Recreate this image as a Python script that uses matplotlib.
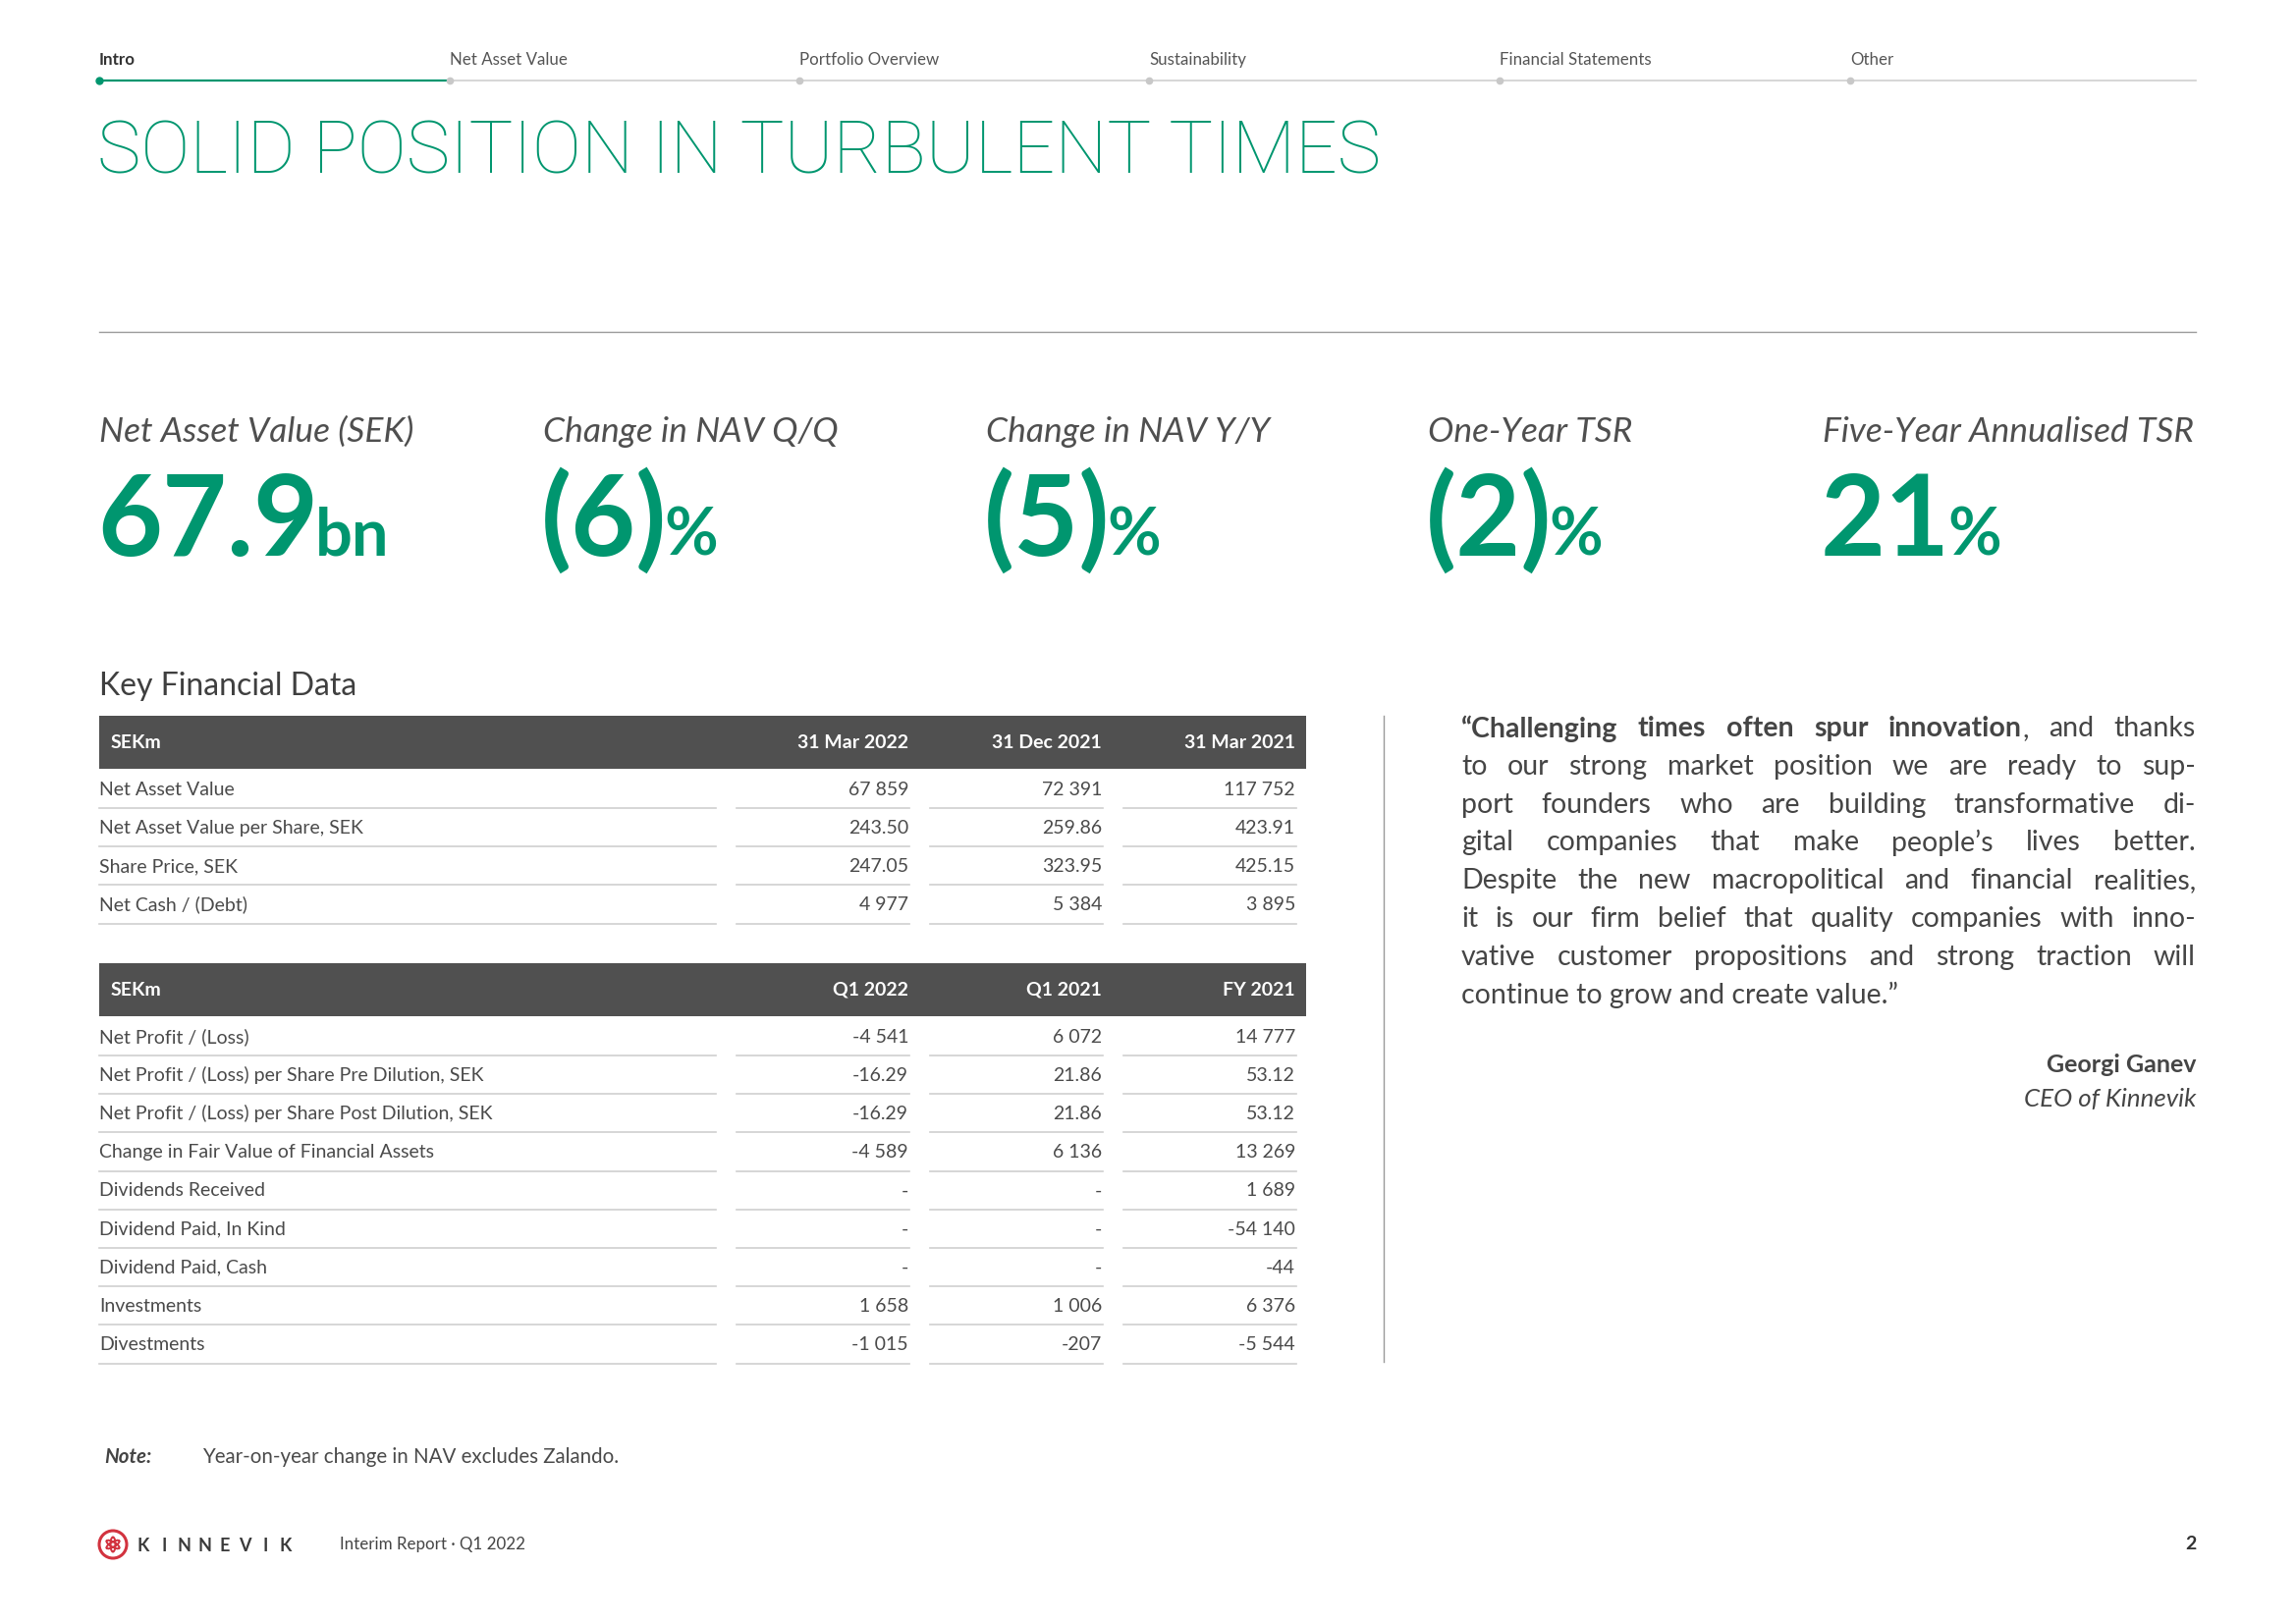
import matplotlib
matplotlib.use("Agg")
import matplotlib.pyplot as plt
from matplotlib.patches import Rectangle, Circle, Ellipse

W, H = 2338, 1653
GREEN = "#00966f"
TXT = "#4a4a4a"
GRID = "#cfcfcf"
HEAD = "#505050"
FONT = ["Lato", "DejaVu Sans"]

plt.rcParams["font.family"] = FONT

nav_items = ["Intro", "Net Asset Value", "Portfolio Overview", "Sustainability",
             "Financial Statements", "Other"]

kpi_labels = ["Net Asset Value (SEK)", "Change in NAV Q/Q", "Change in NAV Y/Y",
              "One-Year TSR", "Five-Year Annualised TSR"]
kpi_values = ["67.9", "(6)", "(5)", "(2)", "21"]
kpi_units = ["bn", "%", "%", "%", "%"]

cols1 = ["31 Mar 2022", "31 Dec 2021", "31 Mar 2021"]
rows1 = ["Net Asset Value", "Net Asset Value per Share, SEK", "Share Price, SEK",
         "Net Cash / (Debt)"]
vals1 = [["67 859", "72 391", "117 752"],
         ["243.50", "259.86", "423.91"],
         ["247.05", "323.95", "425.15"],
         ["4 977", "5 384", "3 895"]]

cols2 = ["Q1 2022", "Q1 2021", "FY 2021"]
rows2 = ["Net Profit / (Loss)", "Net Profit / (Loss) per Share Pre Dilution, SEK",
         "Net Profit / (Loss) per Share Post Dilution, SEK",
         "Change in Fair Value of Financial Assets", "Dividends Received",
         "Dividend Paid, In Kind", "Dividend Paid, Cash", "Investments", "Divestments"]
vals2 = [["-4 541", "6 072", "14 777"],
         ["-16.29", "21.86", "53.12"],
         ["-16.29", "21.86", "53.12"],
         ["-4 589", "6 136", "13 269"],
         ["-", "-", "1 689"],
         ["-", "-", "-54 140"],
         ["-", "-", "-44"],
         ["1 658", "1 006", "6 376"],
         ["-1 015", "-207", "-5 544"]]

quote_lines = [
    [[("\u201cChallenging", "bold")], [("times", "bold")], [("often", "bold")],
     [("spur", "bold")], [("innovation", "bold"), (",", "normal")],
     [("and", "normal")], [("thanks", "normal")]],
    "to our strong market position we are ready to sup-",
    "port founders who are building transformative di-",
    "gital companies that make people\u2019s lives better.",
    "Despite the new macropolitical and financial realities,",
    "it is our firm belief that quality companies with inno-",
    "vative customer propositions and strong traction will",
    "continue to grow and create value.\u201d",
]

fig = plt.figure(figsize=(W / 100, H / 100), dpi=100)
ax = fig.add_axes([0, 0, 1, 1])
ax.set_xlim(0, W)
ax.set_ylim(H, 0)
ax.axis("off")
renderer = fig.canvas.get_renderer()


def width(t):
    bb = t.get_window_extent(renderer)
    return bb.width


def txt(x, y, s, size, **kw):
    kw.setdefault("color", TXT)
    kw.setdefault("va", "center")
    return ax.text(x, y, s, fontsize=size, **kw)


# navigation bar
nav_x = [101, 458, 814, 1170, 1527, 1884]
ax.plot([101, 2236], [82, 82], color=GRID, lw=1.2, zorder=1)
ax.plot([101, nav_x[1]], [82, 82], color=GREEN, lw=1.6, zorder=2)
for i, (x, name) in enumerate(zip(nav_x, nav_items)):
    txt(x, 61, name, 12.2, color="#333333" if i == 0 else "#555555",
        weight="bold" if i == 0 else "normal")
    ax.plot(x, 82, "o", ms=5 if i == 0 else 4.5,
            color=GREEN if i == 0 else "#c8c8c8", zorder=3)

# title
txt(99, 156, "SOLID POSITION IN TURBULENT TIMES", 54, color=GREEN,
    family=["Roboto", "DejaVu Sans"], weight="light")
ax.plot([101, 2236], [338, 338], color="#9a9a9a", lw=1.0)

# KPI block
kpi_x = [101, 553, 1004, 1454, 1856]
for x, lab, val, unit in zip(kpi_x, kpi_labels, kpi_values, kpi_units):
    txt(x, 440, lab, 25.5, style="italic", color="#4f4f4f")
    t = txt(x - 2, 566, val, 82, color=GREEN, weight="bold", va="baseline")
    txt(x - 2 + width(t) - 3, 566, unit, 48, color=GREEN, weight="bold",
        va="baseline")

txt(101, 699, "Key Financial Data", 23, color="#3f3f3f")

# tables
lab_span = (101, 729)
col_spans = [(750, 926), (947, 1123), (1144, 1320)]


def table(top, cols, rows, vals):
    ax.add_patch(Rectangle((101, top), 1229, 54, color=HEAD, lw=0))
    txt(113, top + 27, "SEKm", 14, color="white", weight="bold")
    for (a, b), c in zip(col_spans, cols):
        txt(b - 1, top + 27, c, 14, color="white", weight="bold", ha="right")
    y = top + 75
    for r, row in zip(rows, vals):
        txt(101, y, r, 14)
        for (a, b), v in zip(col_spans, row):
            txt(b - 1, y, v, 14, ha="right")
        for a, b in [lab_span] + col_spans:
            ax.plot([a, b], [y + 19, y + 19], color=GRID, lw=1.2)
        y += 39.2


table(729, cols1, rows1, vals1)
table(981, cols2, rows2, vals2)

ax.plot([1409, 1409], [729, 1387], color="#9a9a9a", lw=1.0)

# quote (justified)
qx0, qx1, qsize = 1488, 2236, 20.5
for i, line in enumerate(quote_lines):
    y = 742 + i * 38.8
    if isinstance(line, str):
        words = [[(w, "normal")] for w in line.split(" ")]
    else:
        words = line
    if i == len(quote_lines) - 1:
        txt(qx0, y, line, qsize, color="#454545")
        continue
    pieces = []
    total = 0
    for wd in words:
        x = 0
        parts = []
        for s, wt in wd:
            t = txt(qx0 + x, y, s, qsize, weight=wt, color="#454545")
            w = width(t)
            parts.append((t, x))
            x += w
        pieces.append((parts, x))
        total += x
    gap = (qx1 - qx0 - total) / (len(words) - 1)
    cur = qx0
    for parts, w in pieces:
        for t, off in parts:
            t.set_x(cur + off)
        cur += w + gap

txt(2236, 1084, "Georgi Ganev", 18, ha="right", weight="bold", color="#454545")
txt(2236, 1120, "CEO of Kinnevik", 18.6, ha="right", style="italic",
    color="#454545")

# note
txt(106, 1484, "Note:", 14.8, style="italic", weight="bold", color="#444444")
txt(206, 1484, "Year-on-year change in NAV excludes Zalando.", 14.8)

# footer
RED = "#d2333f"
ax.add_patch(Circle((115, 1573), 14, fill=False, ec=RED, lw=2.2))
for ang in range(0, 360, 60):
    ax.add_patch(Ellipse((115, 1573), 5, 15, angle=ang, fc="none", ec=RED,
                         lw=1.2))
for i, ch in enumerate("KINNEVIK"):
    txt(146 + i * 20.7, 1574, ch, 13, ha="center", weight="bold",
        color="#3a3a3a")
txt(346, 1573, "Interim Report \u00b7 Q1 2022", 12.2, color="#444444")
txt(2236, 1573, "2", 14, ha="right", weight="bold", color="#333333")

fig.savefig("out.png", dpi=100)
